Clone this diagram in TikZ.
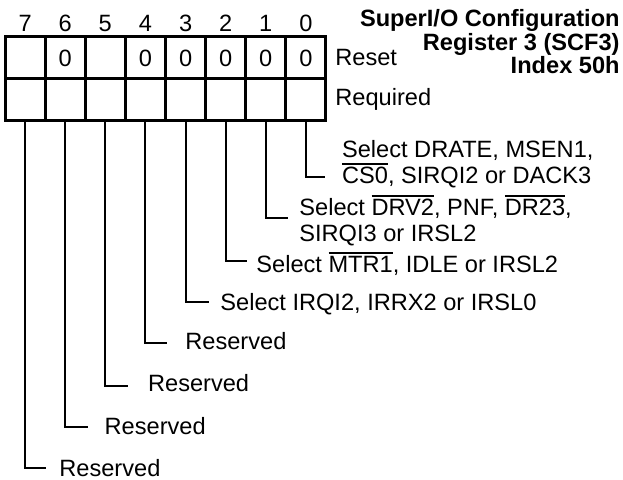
\documentclass[tikz,border=0pt]{standalone}
\usepackage{fontspec}
\setmainfont{Liberation Sans}
\usetikzlibrary{positioning}

% bar over a signal name (active low)
\newsavebox{\ovlbox}
\newcommand{\ovl}[1]{\sbox{\ovlbox}{#1}%
  \rlap{\rule[\dimexpr\ht\ovlbox+0.8pt\relax]{\wd\ovlbox}{0.9pt}}\usebox{\ovlbox}}

\begin{document}
\begin{tikzpicture}[x=0.5pt,y=-0.5pt,
    font=\fontsize{11.8}{13}\selectfont,
    cell/.style={draw,line width=1.5pt,minimum width=20.06pt,minimum height=20.85pt,
      inner sep=0pt,outer sep=0pt},
    lead/.style={line width=1pt},
    lbl/.style={anchor=base west,inner sep=0pt,align=left}]
  \useasboundingbox (0,0) rectangle (623,479);

  % 1. register cells, bit 7 on the left
  \foreach \b in {0,...,7}{
    \node[cell] (r\b) at ({5+(7.5-\b)*40.125},57.5) {};
    \node[cell] (q\b) at ({5+(7.5-\b)*40.125},99.2) {};
    \node[anchor=base,inner sep=0pt] (n\b) at ({5+(7.5-\b)*40.125},31.7) {\b};
  }

  % 2. reset values
  \foreach \b in {0,1,2,3,4,6}
    \node[anchor=base,inner sep=0pt] (v\b) at ({5+(7.5-\b)*40.125},66.7) {0};
  \node[anchor=base west,inner sep=0pt] (reset) at (335,65) {Reset};
  \node[anchor=base west,inner sep=0pt] (req) at (335,105) {Required};

  % 3. title (base = last line)
  \node[anchor=base east,inner sep=0pt,align=right,font=\fontsize{11.8}{11.65}\selectfont\bfseries]
    (title) at (620,73.3) {SuperI/O Configuration\\Register 3 (SCF3)\\Index 50h};

  % 4. ends of the leader lines
  \coordinate (e0) at (325,177.3);
  \coordinate (e1) at (288,218.3);
  \coordinate (e2) at (247,260.5);
  \coordinate (e3) at (209,301.7);
  \coordinate (e4) at (166.7,343.3);
  \coordinate (e5) at (127.7,386);
  \coordinate (e6) at (87.7,426.7);
  \coordinate (e7) at (45.7,468.3);
  \foreach \b in {0,...,7}
    \draw[lead] (q\b.south) |- (e\b);

  % 5. field descriptions (two-line ones placed by their last line)
  \node[lbl] (t0) at (341.7,183) {Select DRATE, MSEN1,\\\ovl{CS0}, SIRQI2 or DACK3};
  \node[lbl] (t1) at (299,241) {Select \ovl{DRV2}, PNF, \ovl{DR23},\\SIRQI3 or IRSL2};
  \node[lbl] (t2) at (256,272) {Select \ovl{MTR1}, IDLE or IRSL2};
  \node[lbl] (t3) at (220,310) {Select IRQI2, IRRX2 or IRSL0};
  \node[lbl] (t4) at (185,349) {Reserved};
  \node[lbl] (t5) at (147.7,391.7) {Reserved};
  \node[lbl] (t6) at (104.3,434) {Reserved};
  \node[lbl] (t7) at (59,476.7) {Reserved};
\end{tikzpicture}
\end{document}
